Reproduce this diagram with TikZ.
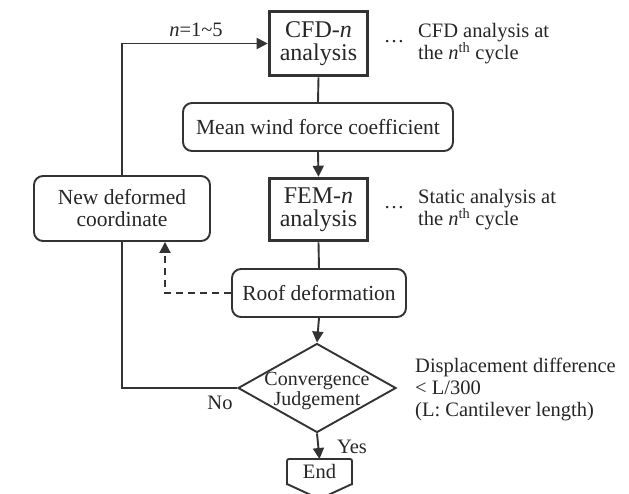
\documentclass[tikz,border=0pt]{standalone}
\usepackage{fontspec}
\setmainfont{Liberation Serif}
\usetikzlibrary{shapes.geometric,arrows.meta}
\begin{document}
\begin{tikzpicture}[x=1pt,y=-1pt,
  ln/.style={draw=black!80,line width=1.9pt},
  arr/.style={ln,-{Triangle[length=11pt,width=11pt]}},
  thickbox/.style={draw=black!80,line width=3.6pt,minimum width=98pt,align=center,inner sep=0pt,text=black!85,font=\fontsize{24}{23}\selectfont},
  rbox/.style={draw=black!80,line width=1.9pt,rounded corners=9pt,align=center,inner sep=0pt,text=black!85,font=\fontsize{21.5}{22}\selectfont},
  txt/.style={align=left,inner sep=0pt,text=black!85,font=\fontsize{20.5}{22}\selectfont},
  lbl/.style={inner sep=0pt,text=black!85,font=\fontsize{20.5}{22}\selectfont}]
\useasboundingbox (0,0) rectangle (629,493);
% nodes
\node[thickbox,minimum height=64pt] (cfd) at (318.5,43.5) {CFD-\textit{n}\\analysis};
\node[rbox,minimum width=270pt,minimum height=48pt] (mean) at (318,127) {Mean wind force coefficient};
\node[thickbox,minimum height=62pt] (fem) at (318.5,209.5) {FEM-\textit{n}\\analysis};
\node[rbox,minimum width=176pt,minimum height=65pt] (newc) at (122,208.5) {New deformed\\coordinate};
\node[rbox,minimum width=174pt,minimum height=48pt] (roof) at (319,293) {Roof deformation};
\node[diamond,draw=black!80,line width=1.9pt,minimum width=158pt,minimum height=89pt,inner sep=0pt] (conv) at (317,388) {};
\node[align=center,inner sep=0pt,text=black!85,font=\fontsize{20}{18}\selectfont] (convt) at (317,391) {Convergence\\Judgement};
\node[lbl] (endt) at (319.5,471) {End};
\coordinate (endtop) at (319.5,459);
\draw[ln,rounded corners=2pt] (287,485) -- (287,459) -- (352,459) -- (352,485);
\draw[ln] (287,484) -- (319.5,499) -- (352,484);
% side texts
\node[lbl] (dots1) at (394,42) {…};
\node[txt,anchor=west] (cfdtxt) at (418,44) {CFD analysis at\\the \textit{n}\textsuperscript{th} cycle};
\node[lbl] (dots2) at (394,208) {…};
\node[txt,anchor=west] (femtxt) at (418,210) {Static analysis at\\the \textit{n}\textsuperscript{th} cycle};
\node[txt,anchor=west] (disptxt) at (415,389) {Displacement difference\\< L/300\\(L: Cantilever length)};
\node[lbl] (nlbl) at (196,30) {\textit{n}=1\textasciitilde5};
\node[lbl] (nolbl) at (220,403) {No};
\node[lbl] (yeslbl) at (352,447) {Yes};
% connectors
\draw[ln] (cfd.south) -- (mean.north);
\draw[arr] (mean.south) -- (fem.north);
\draw[ln] (fem.south) -- (roof.north);
\draw[arr] (roof.south) -- (conv.north);
\draw[arr] (conv.south) -- (endtop);
\draw[ln] (conv.west) -| (newc.south);
\draw[arr] (newc.north) |- (cfd.west);
\draw[arr,dashed,dash pattern=on 7pt off 5pt] (roof.west) -| ([xshift=43pt]newc.south);
\end{tikzpicture}
\end{document}
